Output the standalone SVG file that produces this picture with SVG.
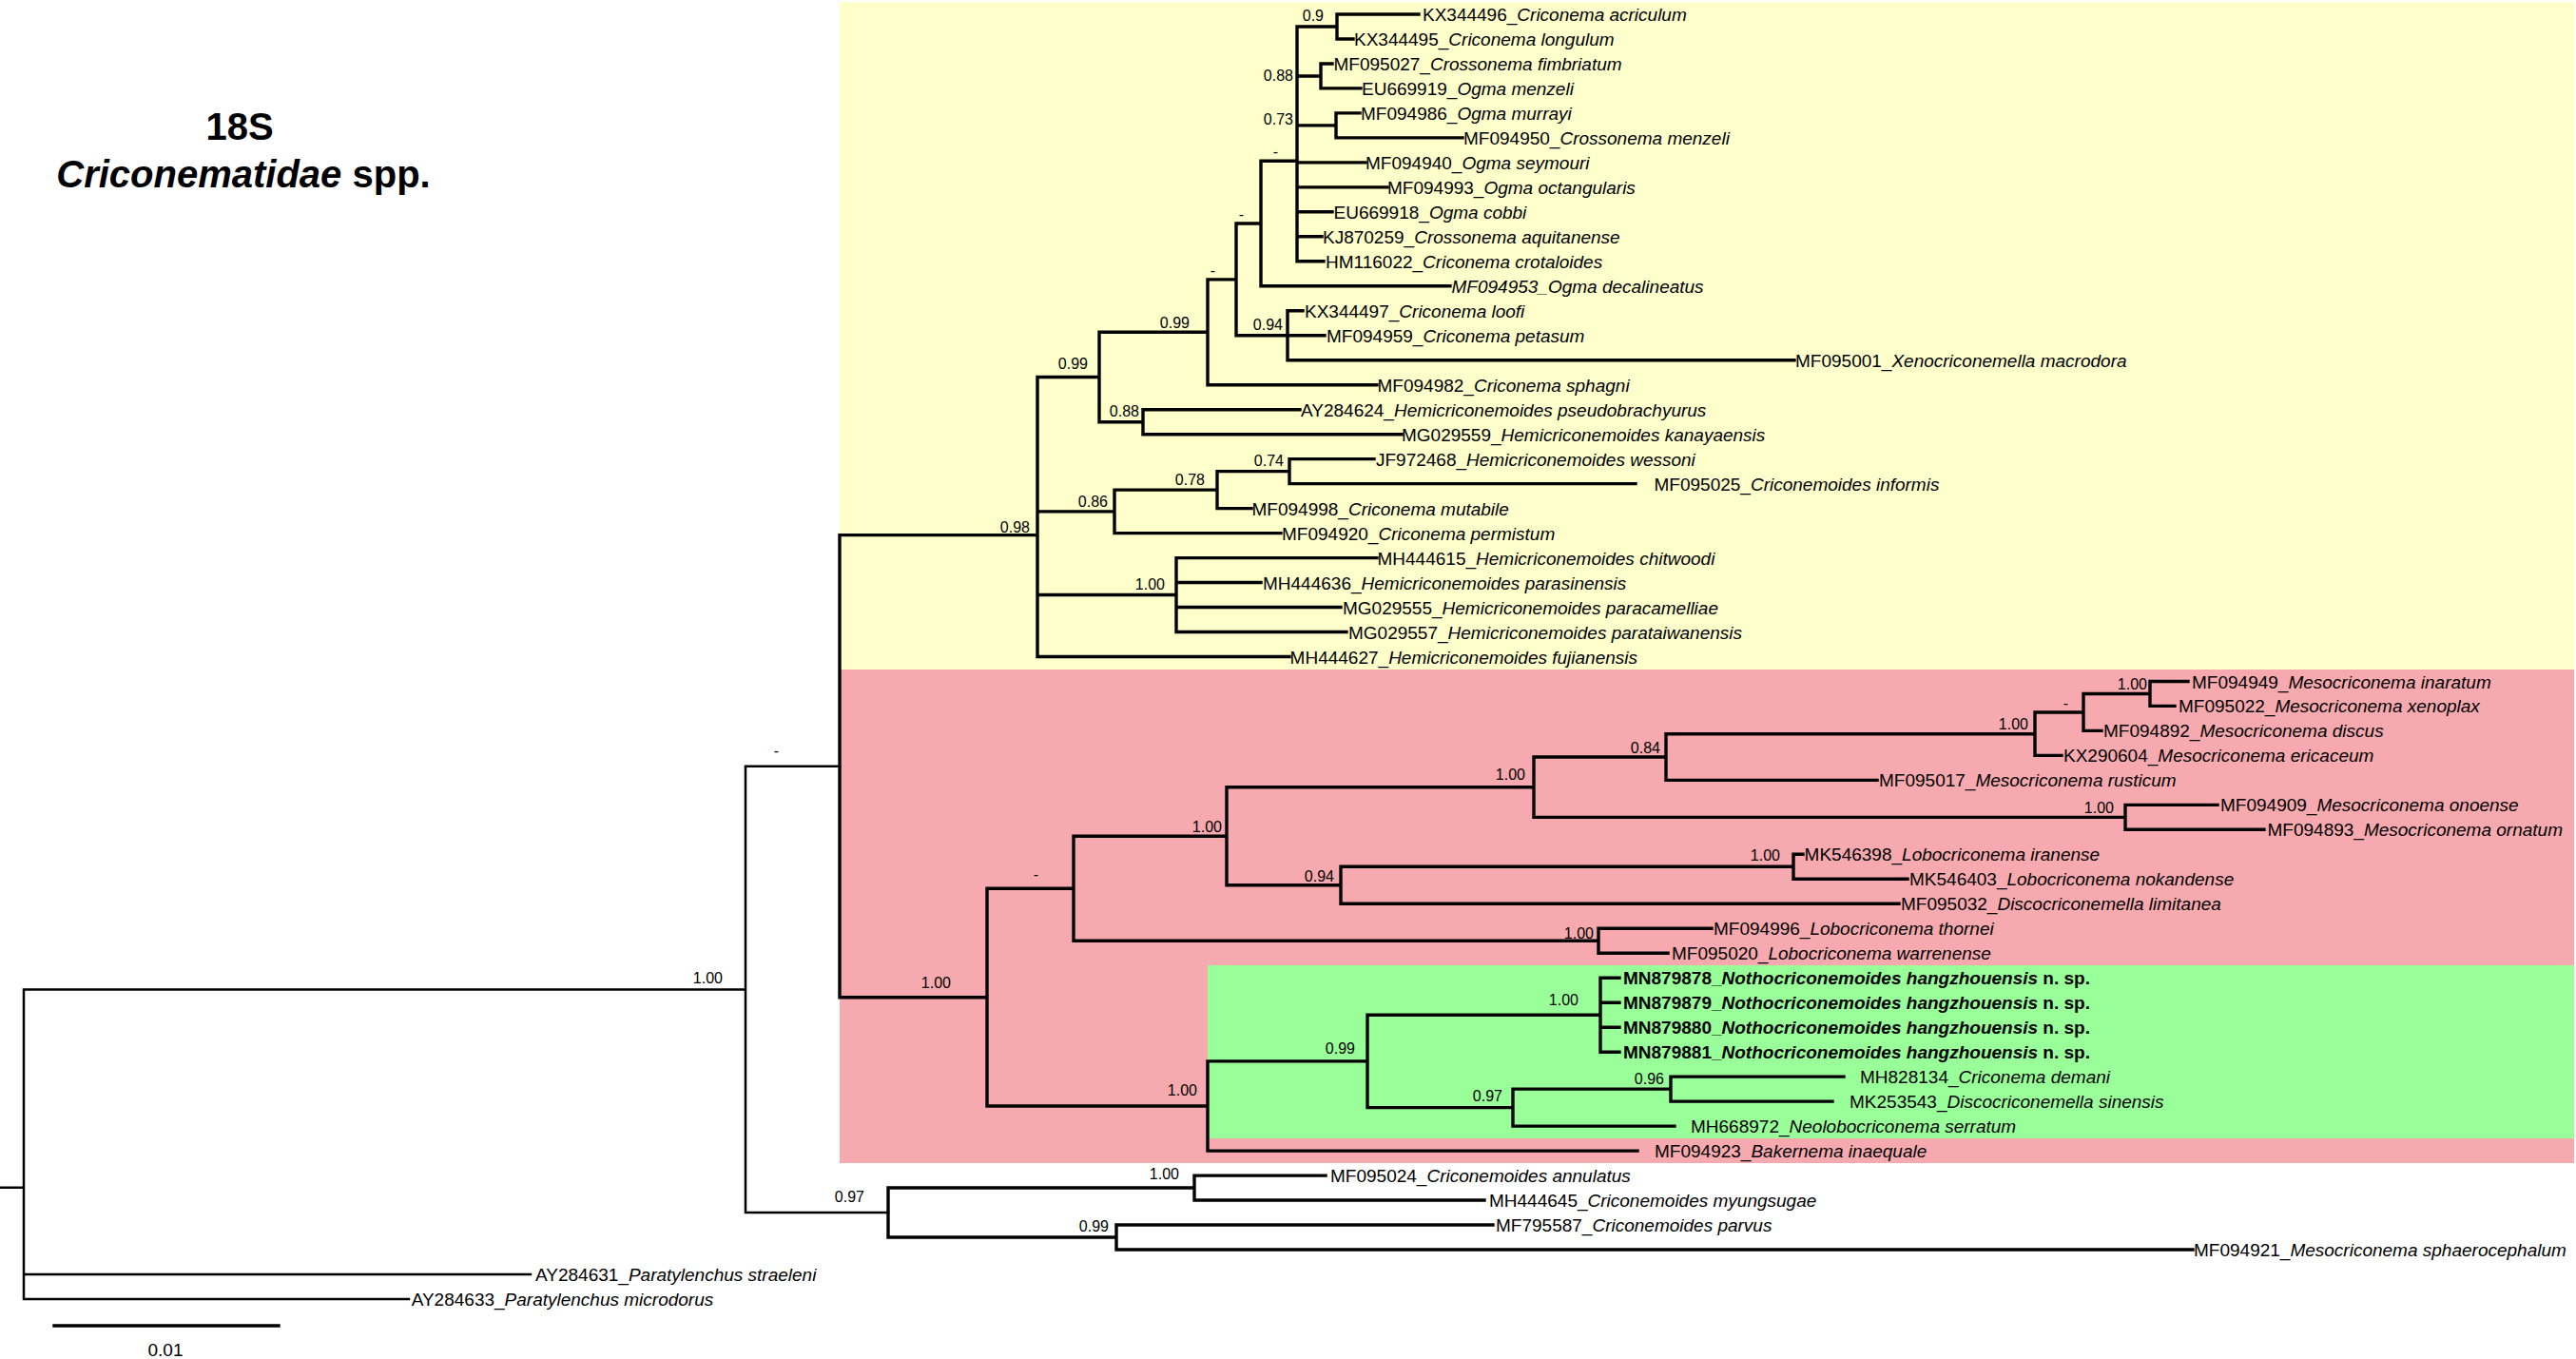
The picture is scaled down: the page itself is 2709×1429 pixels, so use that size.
<svg xmlns="http://www.w3.org/2000/svg" width="2709" height="1429" viewBox="0 0 2709 1429">
<style>
text{font-family:"Liberation Sans",Arial,sans-serif;fill:#000}
.t{font-size:19px}
.s{font-size:16px;text-anchor:end}
.i{font-style:italic}
.bd{font-weight:bold}
.title{font-size:40px;font-weight:bold;text-anchor:middle}
.br{fill:none;stroke:#000;stroke-width:3.4;stroke-linecap:square}
.thin{stroke-width:2.5}
</style>
<rect x="0" y="0" width="2709" height="1429" fill="#fff"/>
<g id="clade-boxes">
<rect x="883" y="2" width="1824" height="702" fill="#FFFFCC"/>
<rect x="883" y="704" width="1824" height="519" fill="#F6A9AE"/>
<rect x="1270" y="1015" width="1437" height="182" fill="#99FF99"/>
</g>
<g id="title">
<text class="title" x="252" y="147">18S</text>
<text class="title" x="256" y="197"><tspan class="i">Criconematidae</tspan> spp.</text>
</g>
<g id="connectors">
<path class="br" d="M1406,15V41M1406,15H1492M1406,41H1423
M1389,67V92.9M1389,67H1401M1389,92.9H1431
M1405,118.9V144.9M1405,118.9H1430M1405,144.9H1538
M1364,28V274.8M1364,28H1406M1364,80H1389M1364,131.9H1405M1364,170.9H1436M1364,196.9H1459M1364,222.8H1401M1364,248.8H1390M1364,274.8H1392
M1326,169.3V300.8M1326,169.3H1364M1326,300.8H1525
M1354,326.8V378.7M1354,326.8H1370M1354,352.7H1393M1354,378.7H1887
M1300,235V352.7M1300,235H1326M1300,352.7H1354
M1270,293.9V404.7M1270,293.9H1300M1270,404.7H1448
M1202,430.7V456.7M1202,430.7H1367M1202,456.7H1474
M1156,349.3V443.7M1156,349.3H1270M1156,443.7H1202
M1356,482.6V508.6M1356,482.6H1445M1356,508.6H1720
M1280,495.6V534.6M1280,495.6H1356M1280,534.6H1316
M1172,515.1V560.6M1172,515.1H1280M1172,560.6H1347
M1237,586.6V664.5M1237,586.6H1448M1237,612.5H1326M1237,638.5H1410M1237,664.5H1416
M1091,396.5V690.5M1091,396.5H1156M1091,537.9H1172M1091,625.5H1237M1091,690.5H1356
M883,562.6V1048.7M883,562.6H1091M883,1048.7H1038
M2261,716.5V742.4M2261,716.5H2301M2261,742.4H2287
M2191,729.5V768.4M2191,729.5H2261M2191,768.4H2210
M2140,749V794.4M2140,749H2191M2140,794.4H2168
M1752,771.7V820.4M1752,771.7H2140M1752,820.4H1974
M2235,846.4V872.3M2235,846.4H2332M2235,872.3H2381
M1613,796V859.4M1613,796H1752M1613,859.4H2235
M1886,898.3V924.3M1886,898.3H1896M1886,924.3H2006
M1410,911.3V950.3M1410,911.3H1886M1410,950.3H1997
M1290,827.7V930.8M1290,827.7H1613M1290,930.8H1410
M1681,976.3V1002.2M1681,976.3H1800M1681,1002.2H1754
M1129,879.3V989.3M1129,879.3H1290M1129,989.3H1681
M1683,1028.2V1106.2M1683,1028.2H1703M1683,1054.2H1703M1683,1080.2H1703M1683,1106.2H1703
M1757,1132.1V1158.1M1757,1132.1H1939M1757,1158.1H1927
M1591,1145.1V1184.1M1591,1145.1H1757M1591,1184.1H1761
M1438,1067.2V1164.6M1438,1067.2H1683M1438,1164.6H1591
M1270,1115.9V1210.1M1270,1115.9H1438M1270,1210.1H1722
M1038,934.3V1163M1038,934.3H1129M1038,1163H1270
M1256,1236.1V1262M1256,1236.1H1394M1256,1262H1561
M1174,1288V1314M1174,1288H1570M1174,1314H2306
M934,1249V1301M934,1249H1256M934,1301H1174"/>
<path class="br thin" d="M784,805.7V1275M784,805.7H883M784,1275H934
M25,1040.4V1366M25,1040.4H784M25,1340H558M25,1366H430M0,1248.8H25"/>
<path class="br" d="M57,1394H293"/>
</g>
<g id="scale-label"><text class="t" x="174" y="1426" text-anchor="middle">0.01</text></g>
<g id="support-values">
<text class="s" x="1392" y="22">0.9</text>
<text class="s" x="1360" y="85">0.88</text>
<text class="s" x="1360" y="131">0.73</text>
<text class="s" x="1344" y="165">-</text>
<text class="s" x="1308" y="231">-</text>
<text class="s" x="1278" y="290">-</text>
<text class="s" x="1349" y="347">0.94</text>
<text class="s" x="1251" y="345">0.99</text>
<text class="s" x="1144" y="388">0.99</text>
<text class="s" x="1198" y="438">0.88</text>
<text class="s" x="1350" y="490">0.74</text>
<text class="s" x="1267" y="510">0.78</text>
<text class="s" x="1165" y="533">0.86</text>
<text class="s" x="1083" y="560">0.98</text>
<text class="s" x="1225" y="620">1.00</text>
<text class="s" x="1000" y="1039">1.00</text>
<text class="s" x="1092" y="925">-</text>
<text class="s" x="1285" y="875">1.00</text>
<text class="s" x="1604" y="820">1.00</text>
<text class="s" x="1746" y="792">0.84</text>
<text class="s" x="1403" y="927">0.94</text>
<text class="s" x="1676" y="987">1.00</text>
<text class="s" x="2133" y="767">1.00</text>
<text class="s" x="2175" y="745">-</text>
<text class="s" x="2258" y="725">1.00</text>
<text class="s" x="2223" y="855">1.00</text>
<text class="s" x="1872" y="905">1.00</text>
<text class="s" x="1660" y="1057">1.00</text>
<text class="s" x="1425" y="1108">0.99</text>
<text class="s" x="1580" y="1158">0.97</text>
<text class="s" x="1750" y="1140">0.96</text>
<text class="s" x="1259" y="1152">1.00</text>
<text class="s" x="1240" y="1240">1.00</text>
<text class="s" x="1166" y="1295">0.99</text>
<text class="s" x="909" y="1264">0.97</text>
<text class="s" x="819" y="795">-</text>
<text class="s" x="760" y="1034">1.00</text>
</g>
<g id="tips">
<g id="KX344496"><text class="t" x="1496" y="22">KX344496_<tspan class="i">Criconema acriculum</tspan></text></g>
<g id="KX344495"><text class="t" x="1424" y="48">KX344495_<tspan class="i">Criconema longulum</tspan></text></g>
<g id="MF095027"><text class="t" x="1402.5" y="74">MF095027_<tspan class="i">Crossonema fimbriatum</tspan></text></g>
<g id="EU669919"><text class="t" x="1432" y="99.9">EU669919_<tspan class="i">Ogma menzeli</tspan></text></g>
<g id="MF094986"><text class="t" x="1431" y="125.9">MF094986_<tspan class="i">Ogma murrayi</tspan></text></g>
<g id="MF094950"><text class="t" x="1539" y="151.9">MF094950_<tspan class="i">Crossonema menzeli</tspan></text></g>
<g id="MF094940"><text class="t" x="1436" y="177.9">MF094940_<tspan class="i">Ogma seymouri</tspan></text></g>
<g id="MF094993"><text class="t" x="1459" y="203.9">MF094993_<tspan class="i">Ogma octangularis</tspan></text></g>
<g id="EU669918"><text class="t" x="1402.5" y="229.8">EU669918_<tspan class="i">Ogma cobbi</tspan></text></g>
<g id="KJ870259"><text class="t" x="1391" y="255.8">KJ870259_<tspan class="i">Crossonema aquitanense</tspan></text></g>
<g id="HM116022"><text class="t" x="1394" y="281.8">HM116022_<tspan class="i">Criconema crotaloides</tspan></text></g>
<g id="MF094953"><text class="t i" x="1526.5" y="307.8">MF094953_Ogma decalineatus</text></g>
<g id="KX344497"><text class="t" x="1372" y="333.8">KX344497_<tspan class="i">Criconema loofi</tspan></text></g>
<g id="MF094959"><text class="t" x="1395" y="359.7">MF094959_<tspan class="i">Criconema petasum</tspan></text></g>
<g id="MF095001"><text class="t" x="1888" y="385.7">MF095001_<tspan class="i">Xenocriconemella macrodora</tspan></text></g>
<g id="MF094982"><text class="t" x="1448.5" y="411.7">MF094982_<tspan class="i">Criconema sphagni</tspan></text></g>
<g id="AY284624"><text class="t" x="1368" y="437.7">AY284624_<tspan class="i">Hemicriconemoides pseudobrachyurus</tspan></text></g>
<g id="MG029559"><text class="t" x="1474" y="463.7">MG029559_<tspan class="i">Hemicriconemoides kanayaensis</tspan></text></g>
<g id="JF972468"><text class="t" x="1447" y="489.6">JF972468_<tspan class="i">Hemicriconemoides wessoni</tspan></text></g>
<g id="MF095025"><text class="t" x="1739.5" y="515.6">MF095025_<tspan class="i">Criconemoides informis</tspan></text></g>
<g id="MF094998"><text class="t" x="1316.5" y="541.6">MF094998_<tspan class="i">Criconema mutabile</tspan></text></g>
<g id="MF094920"><text class="t" x="1348" y="567.6">MF094920_<tspan class="i">Criconema permistum</tspan></text></g>
<g id="MH444615"><text class="t" x="1448.5" y="593.6">MH444615_<tspan class="i">Hemicriconemoides chitwoodi</tspan></text></g>
<g id="MH444636"><text class="t" x="1328" y="619.5">MH444636_<tspan class="i">Hemicriconemoides parasinensis</tspan></text></g>
<g id="MG029555"><text class="t" x="1412" y="645.5">MG029555_<tspan class="i">Hemicriconemoides paracamelliae</tspan></text></g>
<g id="MG029557"><text class="t" x="1418" y="671.5">MG029557_<tspan class="i">Hemicriconemoides parataiwanensis</tspan></text></g>
<g id="MH444627"><text class="t" x="1356.6" y="697.5">MH444627_<tspan class="i">Hemicriconemoides fujianensis</tspan></text></g>
<g id="MF094949"><text class="t" x="2305" y="723.5">MF094949_<tspan class="i">Mesocriconema inaratum</tspan></text></g>
<g id="MF095022"><text class="t" x="2291" y="749.4">MF095022_<tspan class="i">Mesocriconema xenoplax</tspan></text></g>
<g id="MF094892"><text class="t" x="2212" y="775.4">MF094892_<tspan class="i">Mesocriconema discus</tspan></text></g>
<g id="KX290604"><text class="t" x="2170" y="801.4">KX290604_<tspan class="i">Mesocriconema ericaceum</tspan></text></g>
<g id="MF095017"><text class="t" x="1976" y="827.4">MF095017_<tspan class="i">Mesocriconema rusticum</tspan></text></g>
<g id="MF094909"><text class="t" x="2335" y="853.4">MF094909_<tspan class="i">Mesocriconema onoense</tspan></text></g>
<g id="MF094893"><text class="t" x="2384.5" y="879.3">MF094893_<tspan class="i">Mesocriconema ornatum</tspan></text></g>
<g id="MK546398"><text class="t" x="1897.6" y="905.3">MK546398_<tspan class="i">Lobocriconema iranense</tspan></text></g>
<g id="MK546403"><text class="t" x="2008" y="931.3">MK546403_<tspan class="i">Lobocriconema nokandense</tspan></text></g>
<g id="MF095032"><text class="t" x="1999" y="957.3">MF095032_<tspan class="i">Discocriconemella limitanea</tspan></text></g>
<g id="MF094996"><text class="t" x="1802" y="983.3">MF094996_<tspan class="i">Lobocriconema thornei</tspan></text></g>
<g id="MF095020"><text class="t" x="1758" y="1009.2">MF095020_<tspan class="i">Lobocriconema warrenense</tspan></text></g>
<g id="MN879878"><text class="t bd" x="1707" y="1035.2">MN879878_<tspan class="i">Nothocriconemoides hangzhouensis</tspan> n. sp.</text></g>
<g id="MN879879"><text class="t bd" x="1707" y="1061.2">MN879879_<tspan class="i">Nothocriconemoides hangzhouensis</tspan> n. sp.</text></g>
<g id="MN879880"><text class="t bd" x="1707" y="1087.2">MN879880_<tspan class="i">Nothocriconemoides hangzhouensis</tspan> n. sp.</text></g>
<g id="MN879881"><text class="t bd" x="1707" y="1113.2">MN879881_<tspan class="i">Nothocriconemoides hangzhouensis</tspan> n. sp.</text></g>
<g id="MH828134"><text class="t" x="1956" y="1139.1">MH828134_<tspan class="i">Criconema demani</tspan></text></g>
<g id="MK253543"><text class="t" x="1945" y="1165.1">MK253543_<tspan class="i">Discocriconemella sinensis</tspan></text></g>
<g id="MH668972"><text class="t" x="1778" y="1191.1">MH668972_<tspan class="i">Neolobocriconema serratum</tspan></text></g>
<g id="MF094923"><text class="t" x="1740" y="1217.1">MF094923_<tspan class="i">Bakernema inaequale</tspan></text></g>
<g id="MF095024"><text class="t" x="1399" y="1243.1">MF095024_<tspan class="i">Criconemoides annulatus</tspan></text></g>
<g id="MH444645"><text class="t" x="1566" y="1269">MH444645_<tspan class="i">Criconemoides myungsugae</tspan></text></g>
<g id="MF795587"><text class="t" x="1573" y="1295">MF795587_<tspan class="i">Criconemoides parvus</tspan></text></g>
<g id="MF094921"><text class="t" x="2307" y="1321">MF094921_<tspan class="i">Mesocriconema sphaerocephalum</tspan></text></g>
<g id="AY284631"><text class="t" x="563" y="1347">AY284631_<tspan class="i">Paratylenchus straeleni</tspan></text></g>
<g id="AY284633"><text class="t" x="432.7" y="1373">AY284633_<tspan class="i">Paratylenchus microdorus</tspan></text></g>
</g>
</svg>
